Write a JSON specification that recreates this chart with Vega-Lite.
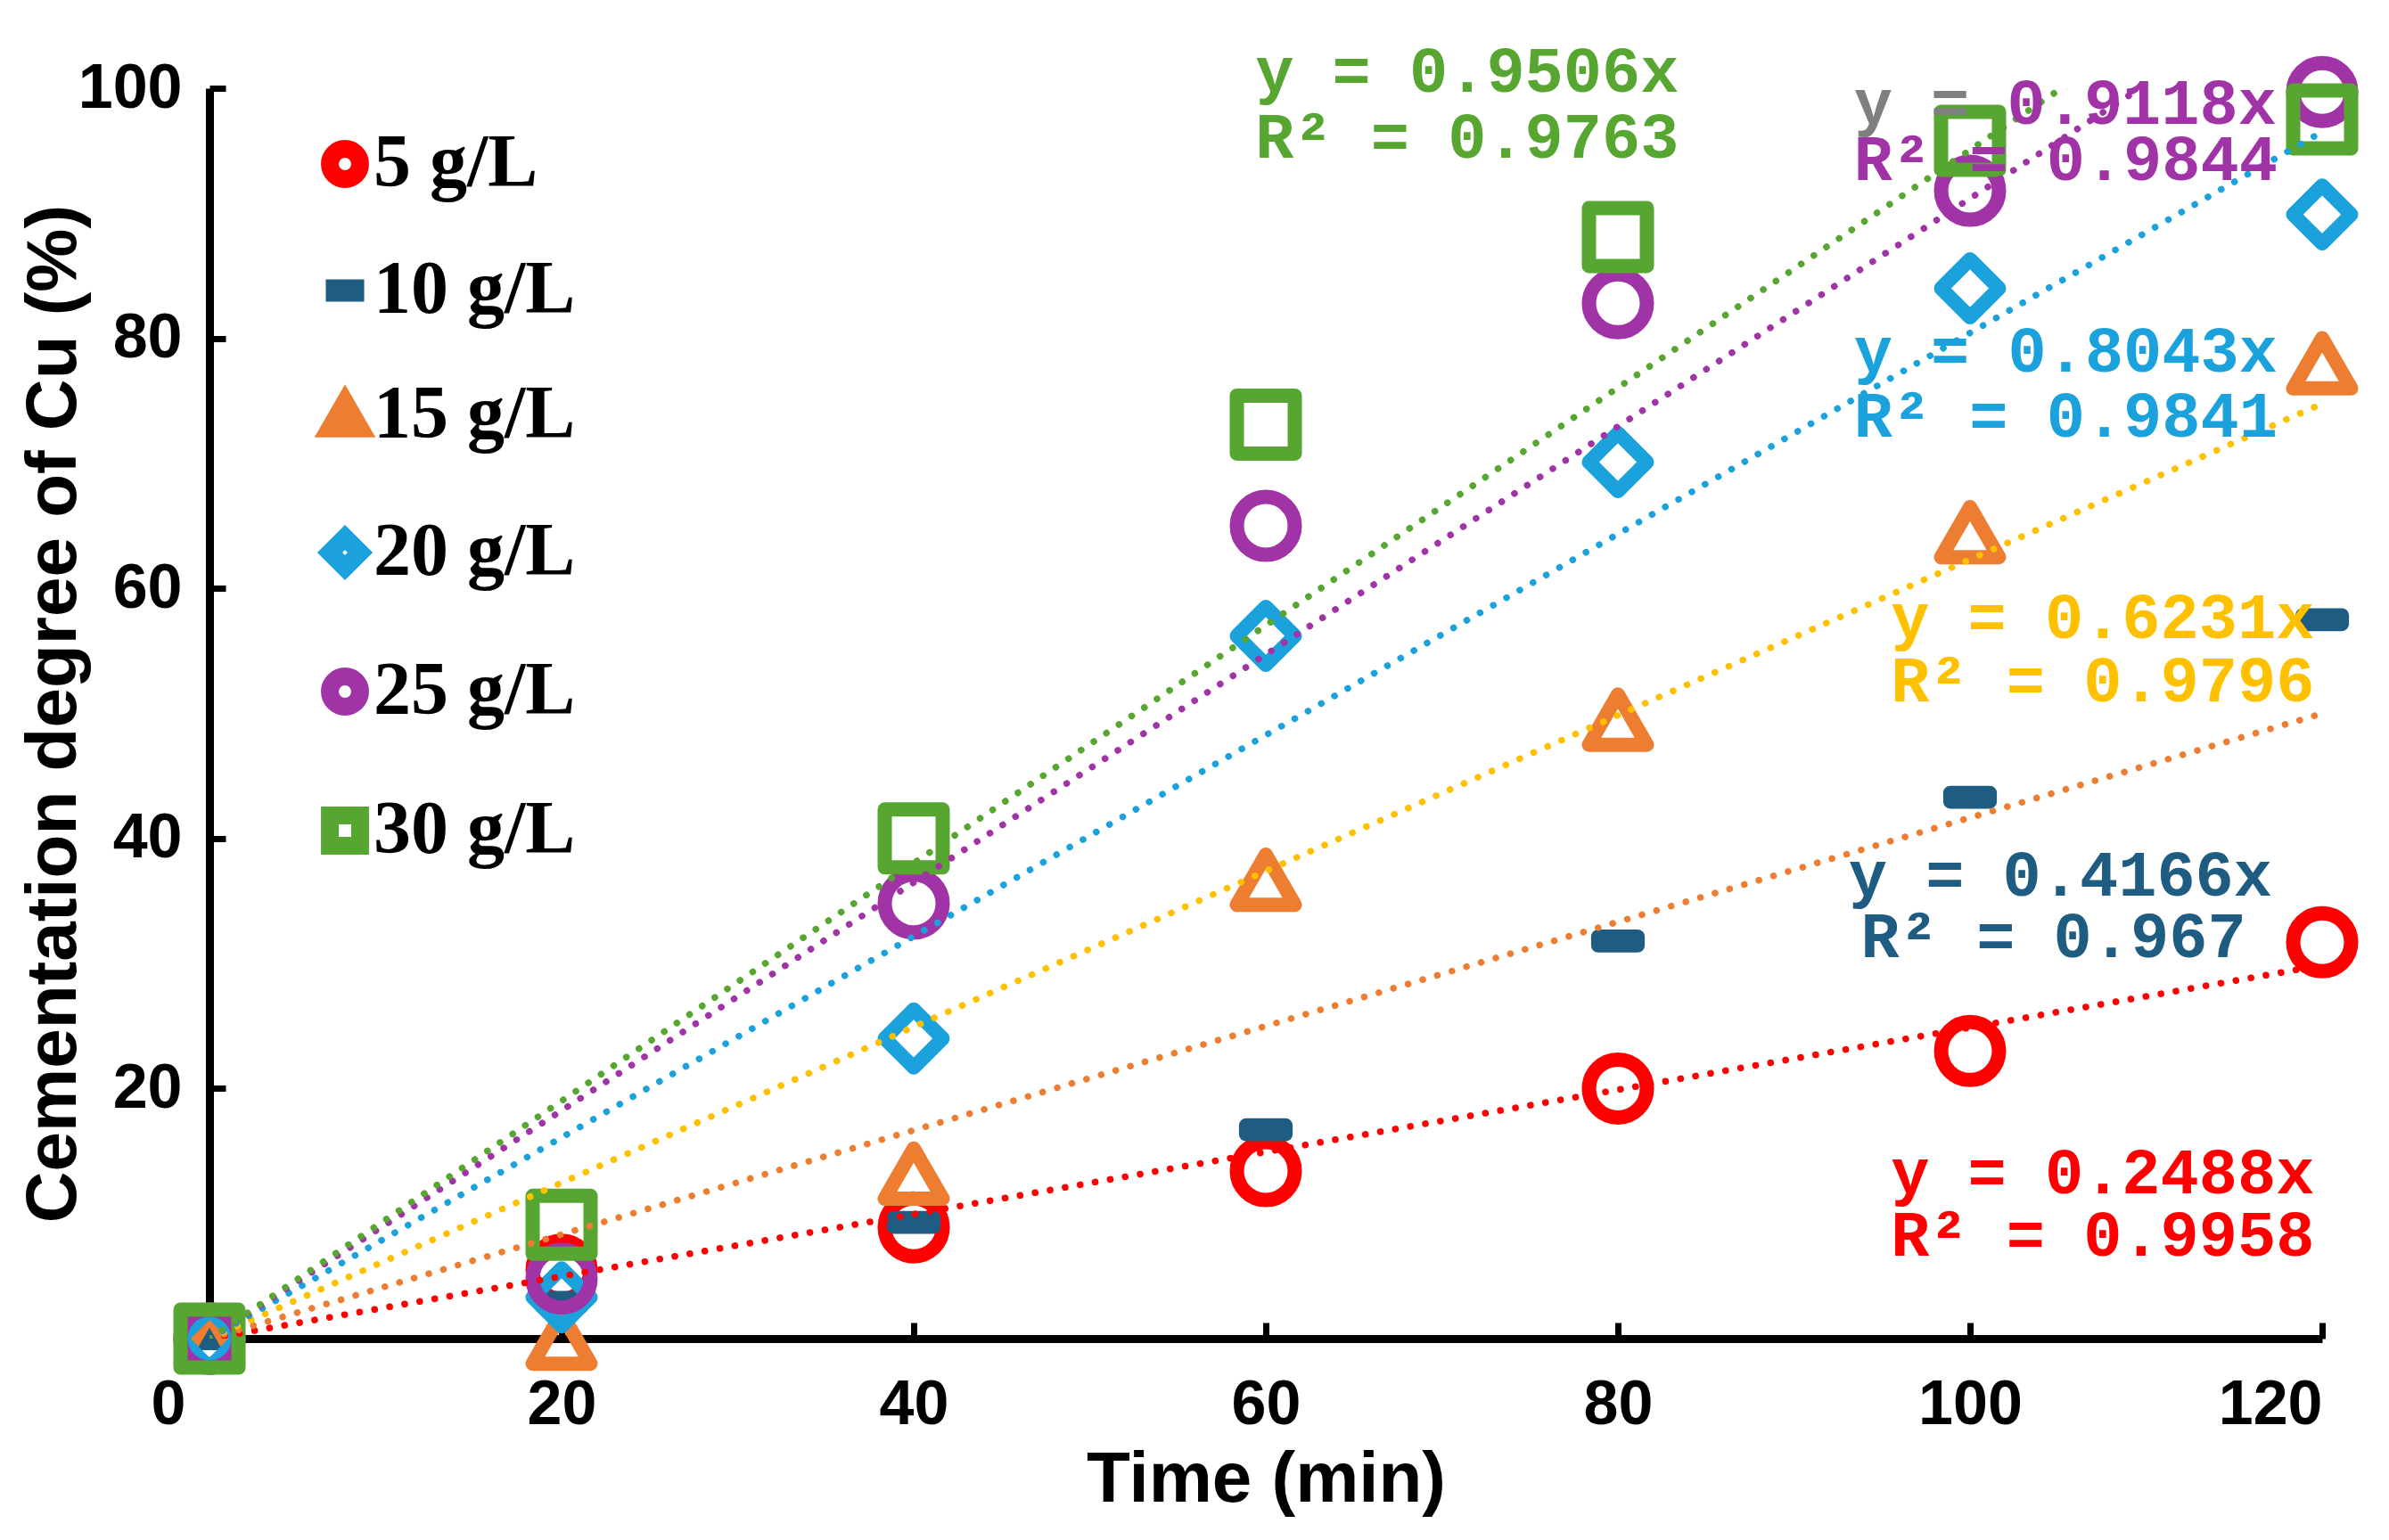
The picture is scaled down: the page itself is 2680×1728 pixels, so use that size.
{
  "$schema": "https://vega.github.io/schema/vega-lite/v6.json",
  "width": 2370,
  "height": 1403,
  "autosize": "none",
  "padding": {"left": 235, "top": 99, "right": 75, "bottom": 226},
  "background": "white",
  "config": {
    "view": {"stroke": null},
    "axis": {
      "grid": false,
      "domainColor": "black",
      "domainWidth": 9,
      "tickColor": "black",
      "tickWidth": 7,
      "tickSize": -18,
      "labelFont": "Liberation Sans",
      "labelFontWeight": "bold",
      "labelFontSize": 70,
      "labelColor": "black",
      "titleFont": "Liberation Sans",
      "titleFontWeight": "bold",
      "titleFontSize": 80,
      "titleColor": "black"
    },
    "legend": {
      "orient": "none",
      "legendX": 110,
      "legendY": 43,
      "title": null,
      "padding": 0,
      "labelFont": "Liberation Serif",
      "labelFontWeight": "bold",
      "labelFontSize": 84,
      "labelColor": "black",
      "labelOffset": -10,
      "labelLimit": 600,
      "symbolSize": 1150,
      "symbolStrokeWidth": 20,
      "rowPadding": 42
    }
  },
  "datasets": {
    "points": [
      {"conc": "5 g/L", "time": 0, "degree": 0},
      {"conc": "5 g/L", "time": 20, "degree": 5.5},
      {"conc": "5 g/L", "time": 40, "degree": 8.9},
      {"conc": "5 g/L", "time": 60, "degree": 13.4},
      {"conc": "5 g/L", "time": 80, "degree": 20.0},
      {"conc": "5 g/L", "time": 100, "degree": 23.0},
      {"conc": "5 g/L", "time": 120, "degree": 31.7},
      {"conc": "10 g/L", "time": 0, "degree": 0},
      {"conc": "10 g/L", "time": 20, "degree": 2.9},
      {"conc": "10 g/L", "time": 40, "degree": 9.3},
      {"conc": "10 g/L", "time": 60, "degree": 16.7},
      {"conc": "10 g/L", "time": 80, "degree": 31.8},
      {"conc": "10 g/L", "time": 100, "degree": 43.3},
      {"conc": "10 g/L", "time": 120, "degree": 57.5},
      {"conc": "15 g/L", "time": 0, "degree": 0},
      {"conc": "15 g/L", "time": 20, "degree": 0},
      {"conc": "15 g/L", "time": 40, "degree": 13.2},
      {"conc": "15 g/L", "time": 60, "degree": 36.7},
      {"conc": "15 g/L", "time": 80, "degree": 49.5},
      {"conc": "15 g/L", "time": 100, "degree": 64.5},
      {"conc": "15 g/L", "time": 120, "degree": 78.0},
      {"conc": "20 g/L", "time": 0, "degree": 0},
      {"conc": "20 g/L", "time": 20, "degree": 3.3},
      {"conc": "20 g/L", "time": 40, "degree": 24.0},
      {"conc": "20 g/L", "time": 60, "degree": 56.2},
      {"conc": "20 g/L", "time": 80, "degree": 70.1},
      {"conc": "20 g/L", "time": 100, "degree": 84.0},
      {"conc": "20 g/L", "time": 120, "degree": 89.9},
      {"conc": "25 g/L", "time": 0, "degree": 0},
      {"conc": "25 g/L", "time": 20, "degree": 4.8},
      {"conc": "25 g/L", "time": 40, "degree": 34.8},
      {"conc": "25 g/L", "time": 60, "degree": 65.0},
      {"conc": "25 g/L", "time": 80, "degree": 82.8},
      {"conc": "25 g/L", "time": 100, "degree": 91.8},
      {"conc": "25 g/L", "time": 120, "degree": 99.7},
      {"conc": "30 g/L", "time": 0, "degree": 0},
      {"conc": "30 g/L", "time": 20, "degree": 9.1},
      {"conc": "30 g/L", "time": 40, "degree": 40.0},
      {"conc": "30 g/L", "time": 60, "degree": 73.1},
      {"conc": "30 g/L", "time": 80, "degree": 88.1},
      {"conc": "30 g/L", "time": 100, "degree": 95.8},
      {"conc": "30 g/L", "time": 120, "degree": 97.5}
    ],
    "trends": [
      {"conc": "5 g/L", "time": 0, "degree": 0},
      {"conc": "5 g/L", "time": 120, "degree": 29.856},
      {"conc": "10 g/L", "time": 0, "degree": 0},
      {"conc": "10 g/L", "time": 120, "degree": 49.992},
      {"conc": "15 g/L", "time": 0, "degree": 0},
      {"conc": "15 g/L", "time": 120, "degree": 74.772},
      {"conc": "20 g/L", "time": 0, "degree": 0},
      {"conc": "20 g/L", "time": 120, "degree": 96.516},
      {"conc": "25 g/L", "time": 0, "degree": 0},
      {"conc": "25 g/L", "time": 120, "degree": 109.416},
      {"conc": "30 g/L", "time": 0, "degree": 0},
      {"conc": "30 g/L", "time": 120, "degree": 114.072}
    ],
    "notes": [
      {"key": "30 g/L", "label": "y = 0.9506x", "time": 59.4, "degree": 101.3},
      {"key": "30 g/L", "label": "R² = 0.9763", "time": 59.4, "degree": 96.0},
      {"key": "25 g/L y", "label": "y =", "time": 93.4, "degree": 98.7},
      {"key": "25 g/L", "label": "0.9118x", "time": 102.1, "degree": 98.7},
      {"key": "25 g/L", "label": "R² = 0.9844", "time": 93.4, "degree": 94.2},
      {"key": "20 g/L", "label": "y = 0.8043x", "time": 93.4, "degree": 78.9},
      {"key": "20 g/L", "label": "R² = 0.9841", "time": 93.4, "degree": 73.7},
      {"key": "15 g/L", "label": "y = 0.6231x", "time": 95.5, "degree": 57.6},
      {"key": "15 g/L", "label": "R² = 0.9796", "time": 95.5, "degree": 52.5},
      {"key": "10 g/L", "label": "y = 0.4166x", "time": 93.1, "degree": 37.0},
      {"key": "10 g/L", "label": "R² = 0.967", "time": 93.8, "degree": 32.1},
      {"key": "5 g/L", "label": "y = 0.2488x", "time": 95.5, "degree": 13.2},
      {"key": "5 g/L", "label": "R² = 0.9958", "time": 95.5, "degree": 8.2}
    ]
  },
  "layer": [
    {
      "data": {"name": "points"},
      "mark": {"type": "point", "filled": false, "opacity": 1, "strokeWidth": 16, "strokeJoin": "round", "size": 4225},
      "encoding": {
        "x": {
          "field": "time",
          "type": "quantitative",
          "scale": {"domain": [0, 120], "nice": false},
          "axis": {
            "title": "Time (min)",
            "values": [0, 20, 40, 60, 80, 100, 120],
            "format": "d",
            "labelPadding": 58,
            "labelOffset": {"condition": {"test": "datum.value === 0", "value": -66}, "value": 0},
            "titlePadding": 10
          }
        },
        "y": {
          "field": "degree",
          "type": "quantitative",
          "scale": {"domain": [0, 100], "nice": false},
          "axis": {
            "title": "Cementation degree of Cu (%)",
            "values": [20, 40, 60, 80, 100],
            "format": "d",
            "labelPadding": 49,
            "titlePadding": -14
          }
        },
        "color": {
          "field": "conc",
          "type": "nominal",
          "scale": {
            "domain": ["5 g/L", "10 g/L", "15 g/L", "20 g/L", "25 g/L", "30 g/L"],
            "range": ["#ff0000", "#1f5c82", "#ed7d31", "#1ba1dc", "#a033a5", "#57a631"]
          },
          "legend": {"labelLimit": 600}
        },
        "shape": {
          "field": "conc",
          "type": "nominal",
          "scale": {
            "domain": ["5 g/L", "10 g/L", "15 g/L", "20 g/L", "25 g/L", "30 g/L"],
            "range": ["circle", "M-0.68,-0.15H0.68V0.15H-0.68Z", "triangle-up", "diamond", "circle", "square"]
          },
          "legend": {"labelLimit": 600}
        }
      }
    },
    {
      "data": {"name": "trends"},
      "mark": {"type": "line", "strokeDash": [0.1, 17], "strokeCap": "round", "strokeWidth": 7.5, "clip": true},
      "encoding": {
        "x": {"field": "time", "type": "quantitative"},
        "y": {"field": "degree", "type": "quantitative"},
        "stroke": {
          "field": "conc",
          "type": "nominal",
          "scale": {
            "domain": ["5 g/L", "10 g/L", "15 g/L", "20 g/L", "25 g/L", "30 g/L"],
            "range": ["#ff0000", "#ed7d31", "#ffc000", "#1ba1dc", "#a033a5", "#57a631"]
          },
          "legend": null
        }
      }
    },
    {
      "data": {"name": "notes"},
      "mark": {"type": "text", "align": "left", "baseline": "middle", "font": "Liberation Mono", "fontWeight": "bold", "fontSize": 72},
      "encoding": {
        "x": {"field": "time", "type": "quantitative"},
        "y": {"field": "degree", "type": "quantitative"},
        "text": {"field": "label", "type": "nominal"},
        "fill": {
          "field": "key",
          "type": "nominal",
          "scale": {
            "domain": ["5 g/L", "10 g/L", "15 g/L", "20 g/L", "25 g/L", "25 g/L y", "30 g/L"],
            "range": ["#ff0000", "#1f5c82", "#ffc000", "#1ba1dc", "#a033a5", "#7f7f7f", "#57a631"]
          },
          "legend": null
        }
      }
    }
  ]
}
